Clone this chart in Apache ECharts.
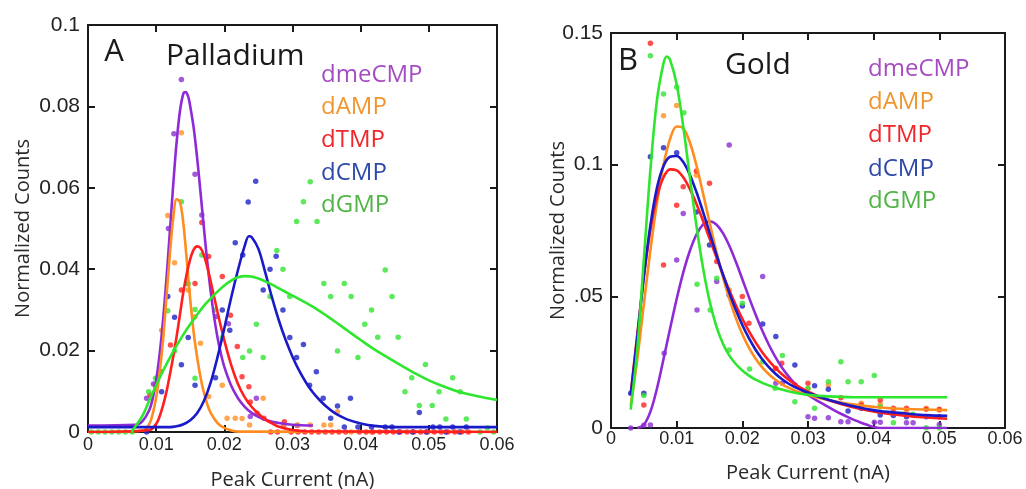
<!DOCTYPE html>
<html>
<head>
<meta charset="utf-8">
<script src="https://cdn.jsdelivr.net/npm/echarts@6/dist/echarts.min.js"></script>
<style>html,body{margin:0;padding:0;background:#fff;}#c{width:1026px;height:489px;}</style>
</head>
<body>
<div id="c"></div>
<script>
// ---------- tick labels & categories ----------
const X_TICKS = ['0', '0.01', '0.02', '0.03', '0.04', '0.05', '0.06'];
const Y_TICKS_A = ['0', '0.02', '0.04', '0.06', '0.08', '0.1'];
const Y_TICKS_B = ['0', '.05', '0.1', '0.15'];
const NUCLEOTIDES = ['dmeCMP', 'dAMP', 'dTMP', 'dCMP', 'dGMP'];
const PANEL_TITLES = ['Palladium', 'Gold'];
const PANEL_LETTERS = ['A', 'B'];

// ---------- Panel A (Palladium): fitted curves [x nA, normalized counts] ----------
const pdFitDmeCMP = [[0,0.0016],[0.007,0.0018],[0.008,0.0027],[0.009,0.0054],[0.0095,0.0083],[0.010,0.0127],[0.0105,0.019],[0.011,0.0273],[0.0115,0.0375],[0.012,0.049],[0.0125,0.0607],[0.013,0.0712],[0.0135,0.079],[0.014,0.0832],[0.0143,0.0835],[0.0147,0.0824],[0.015,0.080],[0.0155,0.0748],[0.016,0.0675],[0.0165,0.059],[0.017,0.0502],[0.0175,0.0418],[0.018,0.0345],[0.0185,0.0283],[0.019,0.0232],[0.0195,0.0192],[0.020,0.016],[0.021,0.0114],[0.022,0.0083],[0.023,0.0062],[0.024,0.0047],[0.025,0.0037],[0.026,0.003],[0.027,0.0025],[0.028,0.0022],[0.030,0.0018],[0.033,0.0016]];
const pdFitDAMP = [[0,0],[0.008,0.0003],[0.009,0.002],[0.0095,0.0045],[0.010,0.0085],[0.0105,0.0145],[0.011,0.0225],[0.0115,0.033],[0.012,0.0435],[0.0125,0.0525],[0.013,0.0572],[0.0135,0.0565],[0.014,0.051],[0.0145,0.042],[0.015,0.0325],[0.0155,0.0245],[0.016,0.0185],[0.0165,0.0135],[0.017,0.0097],[0.0175,0.0068],[0.018,0.0047],[0.019,0.0022],[0.020,0.001],[0.021,0.0004],[0.022,0.0001],[0.06,0]];
const pdFitDTMP = [[0,0],[0.009,0.0005],[0.010,0.002],[0.0105,0.0038],[0.011,0.0065],[0.0115,0.0098],[0.012,0.014],[0.0125,0.0185],[0.013,0.0235],[0.0135,0.029],[0.014,0.0345],[0.0145,0.039],[0.015,0.0425],[0.0155,0.0448],[0.016,0.0456],[0.0165,0.0452],[0.017,0.0435],[0.0175,0.0405],[0.018,0.037],[0.019,0.0295],[0.020,0.0225],[0.021,0.0165],[0.022,0.0118],[0.023,0.0085],[0.024,0.0062],[0.025,0.0045],[0.026,0.0031],[0.027,0.0021],[0.028,0.0013],[0.030,0.0005],[0.032,0.0002],[0.06,0]];
const pdFitDCMP = [[0,0.0012],[0.012,0.0012],[0.013,0.0014],[0.014,0.0019],[0.015,0.0029],[0.016,0.0046],[0.017,0.0076],[0.018,0.0122],[0.019,0.0184],[0.020,0.0255],[0.021,0.033],[0.022,0.0398],[0.023,0.0458],[0.0236,0.0481],[0.024,0.0479],[0.025,0.045],[0.026,0.0392],[0.027,0.033],[0.028,0.0274],[0.029,0.0226],[0.030,0.0185],[0.031,0.015],[0.032,0.0121],[0.033,0.0097],[0.034,0.0078],[0.035,0.0062],[0.036,0.0049],[0.037,0.0039],[0.038,0.0031],[0.040,0.0021],[0.042,0.0015],[0.045,0.0012],[0.06,0.0012]];
const pdFitDGMP = [[0.0064,0],[0.007,0.0015],[0.008,0.004],[0.009,0.0078],[0.010,0.0115],[0.011,0.015],[0.012,0.0182],[0.013,0.0212],[0.014,0.024],[0.015,0.0265],[0.016,0.0288],[0.017,0.031],[0.018,0.0328],[0.019,0.0345],[0.020,0.036],[0.021,0.0372],[0.022,0.038],[0.023,0.0383],[0.024,0.0382],[0.025,0.0377],[0.026,0.037],[0.027,0.0362],[0.028,0.0353],[0.029,0.0344],[0.030,0.0335],[0.032,0.0317],[0.034,0.0297],[0.036,0.0274],[0.038,0.025],[0.040,0.0226],[0.042,0.0203],[0.044,0.0183],[0.046,0.0163],[0.048,0.0144],[0.050,0.0127],[0.052,0.0113],[0.054,0.0101],[0.056,0.0092],[0.058,0.0085],[0.060,0.0079]];

// ---------- Panel A: measured histogram points ----------
const pdPtsDmeCMP = [[0.0086,0.0083],[0.0096,0.0118],[0.0118,0.050],[0.0126,0.0733],[0.0137,0.0866],[0.0157,0.0633],[0.0167,0.0533],[0.0189,0.0284],[0.0206,0.0266],[0.0238,0.0038],[0.0247,0.0083],[0.0287,0.0016],[0.0307,0.0016]];
const pdPtsDAMP = [[0.0108,0.025],[0.0117,0.0532],[0.0127,0.0416],[0.0137,0.0735],[0.0147,0.0349],[0.0157,0.0283],[0.0165,0.0218],[0.0177,0.0087],[0.0197,0.0115],[0.0204,0.0034],[0.0216,0.0034],[0.0226,0.0033],[0.0237,0.0017],[0.0257,0.0083],[0.0287,0.0017],[0.0307,0.0017],[0.0326,0.0017],[0.0346,0.0017],[0.0356,0.0017],[0.0366,0.005],[0.0386,0],[0.0416,0]];
const pdPtsDTMP = [[0.0091,0.0091],[0.0099,0.0115],[0.0107,0.0148],[0.0121,0.0214],[0.0137,0.0349],[0.0145,0.0365],[0.0157,0.0365],[0.0167,0.0515],[0.0177,0.0431],[0.0197,0.0382],[0.0209,0.0287],[0.0219,0.021],[0.0226,0.0136],[0.0236,0.0111],[0.0238,0.0074],[0.0248,0.0046],[0.0258,0.0034],[0.0268,0],[0.0278,0],[0.0288,0.0025],[0.0298,0],[0.0308,0],[0.0318,0],[0.0328,0],[0.0338,0],[0.0348,0],[0.0358,0],[0.0368,0],[0.0378,0],[0.0398,0],[0.0408,0],[0.0418,0],[0.0428,0],[0.0438,0],[0.0448,0],[0.0458,0],[0.0468,0],[0.0478,0],[0.0488,0],[0.0498,0],[0.0508,0],[0.0518,0],[0.0528,0],[0.0538,0],[0.0548,0],[0.0558,0]];
const pdPtsDCMP = [[0.0086,0],[0.0108,0.0099],[0.0117,0.0333],[0.0127,0.0282],[0.0137,0.0165],[0.0147,0.0232],[0.0157,0.0115],[0.0187,0.0133],[0.0197,0.030],[0.0208,0.025],[0.0216,0.0465],[0.0227,0.0435],[0.0235,0.0565],[0.0246,0.0616],[0.0257,0.0349],[0.0267,0.040],[0.0276,0.0432],[0.0286,0.030],[0.0296,0.0232],[0.0306,0.0183],[0.0316,0.0215],[0.0325,0.0115],[0.0335,0.0148],[0.0345,0.0083],[0.0356,0.0034],[0.0366,0.0064],[0.0376,0.0012],[0.0385,0.0083],[0.0396,0.0012],[0.0416,0.0012],[0.0436,0.0012],[0.0446,0.0012],[0.0486,0.0048],[0.0506,0.0012],[0.0516,0.0012],[0.0535,0.0012],[0.0555,0.0012],[0.0456,0],[0.0476,0],[0.0496,0],[0.0525,0],[0.0545,0]];
const pdPtsDGMP = [[0.0005,0],[0.0015,0],[0.0025,0],[0.0035,0],[0.0045,0],[0.0055,0],[0.0065,0],[0.0089,0.0099],[0.0099,0.0132],[0.0117,0.0298],[0.0127,0.0199],[0.0137,0.0566],[0.0147,0.0365],[0.0157,0.0301],[0.0157,0.0132],[0.0167,0.0435],[0.0187,0.030],[0.0197,0.0232],[0.0227,0.0183],[0.0237,0.0199],[0.0247,0.0265],[0.0257,0.0183],[0.0267,0.0333],[0.0277,0.0446],[0.0286,0.040],[0.0296,0.0333],[0.0306,0.0517],[0.0316,0.0566],[0.0326,0.0615],[0.0336,0.0517],[0.0346,0.0365],[0.0356,0.0333],[0.0366,0.0199],[0.0376,0.0365],[0.0386,0.0333],[0.0396,0.0183],[0.0406,0.0265],[0.0416,0.030],[0.0425,0.0233],[0.0436,0.0398],[0.0446,0.0333],[0.0455,0.0233],[0.0465,0.0099],[0.0475,0.0133],[0.0486,0.0065],[0.0495,0.0166],[0.0505,0.0065],[0.0515,0.0099],[0.0525,0.0032],[0.0535,0.0133],[0.0546,0.0099],[0.0555,0.0032],[0.0575,0],[0.0586,0.001],[0.0595,0]];

// ---------- Panel B (Gold): fitted curves ----------
const auFitDmeCMP = [[0.004,0],[0.005,0.0012],[0.006,0.0062],[0.007,0.015],[0.008,0.0262],[0.009,0.0378],[0.010,0.049],[0.011,0.059],[0.012,0.0672],[0.013,0.0734],[0.014,0.0772],[0.015,0.0785],[0.016,0.0774],[0.017,0.0742],[0.018,0.0693],[0.019,0.0632],[0.020,0.0565],[0.021,0.0497],[0.022,0.0432],[0.023,0.0372],[0.024,0.0318],[0.025,0.0271],[0.026,0.0231],[0.027,0.0197],[0.028,0.0168],[0.029,0.0144],[0.030,0.0126],[0.031,0.011],[0.032,0.0095],[0.033,0.0081],[0.034,0.0067],[0.035,0.0054],[0.036,0.0042],[0.037,0.0031],[0.038,0.0021],[0.039,0.0012],[0.040,0.0004],[0.041,0],[0.0512,0]];
const auFitDAMP = [[0.003,0.0086],[0.004,0.026],[0.005,0.047],[0.006,0.0675],[0.007,0.0855],[0.008,0.100],[0.009,0.1098],[0.010,0.1145],[0.011,0.1138],[0.012,0.1085],[0.013,0.0998],[0.014,0.0893],[0.015,0.0782],[0.016,0.0675],[0.017,0.0578],[0.018,0.0492],[0.019,0.0418],[0.020,0.0356],[0.021,0.0305],[0.022,0.0264],[0.023,0.0231],[0.024,0.0205],[0.025,0.0184],[0.026,0.0167],[0.027,0.0153],[0.028,0.0142],[0.030,0.0125],[0.032,0.0112],[0.035,0.0097],[0.038,0.0086],[0.041,0.0078],[0.045,0.0072],[0.0512,0.0068]];
const auFitDTMP = [[0.003,0.013],[0.004,0.0355],[0.005,0.0575],[0.006,0.0752],[0.007,0.0877],[0.008,0.0952],[0.009,0.0982],[0.010,0.0978],[0.011,0.0952],[0.012,0.0908],[0.013,0.0852],[0.014,0.0788],[0.015,0.072],[0.016,0.0652],[0.017,0.0586],[0.018,0.0524],[0.019,0.0467],[0.020,0.0415],[0.021,0.0368],[0.022,0.0326],[0.023,0.0289],[0.024,0.0257],[0.025,0.0229],[0.026,0.0205],[0.027,0.0184],[0.028,0.0166],[0.029,0.0151],[0.030,0.0138],[0.032,0.0116],[0.035,0.0091],[0.038,0.0072],[0.041,0.0058],[0.045,0.0046],[0.048,0.004],[0.0512,0.0035]];
const auFitDCMP = [[0.003,0.0125],[0.004,0.0345],[0.005,0.0575],[0.006,0.077],[0.007,0.0912],[0.008,0.0995],[0.009,0.103],[0.010,0.1033],[0.011,0.101],[0.012,0.0962],[0.013,0.0897],[0.014,0.0822],[0.015,0.0743],[0.016,0.0663],[0.017,0.0586],[0.018,0.0514],[0.019,0.0449],[0.020,0.0391],[0.021,0.0341],[0.022,0.0298],[0.023,0.0262],[0.024,0.0232],[0.025,0.0207],[0.026,0.0186],[0.027,0.0169],[0.028,0.0155],[0.030,0.0134],[0.032,0.0116],[0.035,0.0094],[0.038,0.0077],[0.041,0.0064],[0.045,0.0055],[0.048,0.0049],[0.0512,0.0046]];
const auFitDGMP = [[0.003,0.007],[0.004,0.03],[0.005,0.064],[0.006,0.098],[0.007,0.1245],[0.008,0.1385],[0.0085,0.1411],[0.009,0.1398],[0.010,0.1305],[0.011,0.1145],[0.012,0.0955],[0.013,0.077],[0.014,0.061],[0.015,0.0483],[0.016,0.039],[0.017,0.0323],[0.018,0.0276],[0.019,0.0243],[0.020,0.0218],[0.021,0.0199],[0.022,0.0184],[0.024,0.0162],[0.026,0.0146],[0.028,0.0134],[0.030,0.0126],[0.033,0.012],[0.037,0.0117],[0.0512,0.0117]];

// ---------- Panel B: measured histogram points ----------
const auPtsDmeCMP = [[0.003,0],[0.005,0.001],[0.006,0.0011],[0.0081,0.0284],[0.010,0.0638],[0.011,0.0815],[0.0131,0.0448],[0.0161,0.0556],[0.018,0.1075],[0.0231,0.0575],[0.0251,0.017],[0.0261,0.017],[0.030,0.0043],[0.031,0.0037],[0.0331,0.0039],[0.035,0.0024],[0.0361,0.0024],[0.0401,0.0022],[0.041,0.0022],[0.045,0.002],[0.046,0.002],[0.050,0.0013]];
const auPtsDAMP = [[0.008,0.1186],[0.010,0.1225],[0.013,0.096],[0.018,0.0524],[0.025,0.0225],[0.028,0.0163],[0.030,0.015],[0.0331,0.0163],[0.0381,0.0094],[0.041,0.009],[0.043,0.0062],[0.045,0.0062],[0.048,0.0075],[0.050,0.0068]];
const auPtsDTMP = [[0.005,0.0087],[0.006,0.1461],[0.008,0.0619],[0.010,0.0846],[0.011,0.0916],[0.013,0.0976],[0.015,0.0929],[0.0161,0.0632],[0.020,0.0499],[0.021,0.0398],[0.0251,0.0227],[0.026,0.0246],[0.028,0.0163],[0.030,0.017],[0.035,0.0115],[0.0381,0.0087],[0.041,0.0106],[0.043,0.0075],[0.045,0.0075],[0.048,0.0071],[0.050,0.0071]];
const auPtsDCMP = [[0.003,0.0132],[0.005,0.0132],[0.006,0.103],[0.008,0.1064],[0.010,0.1045],[0.013,0.082],[0.015,0.0695],[0.018,0.0505],[0.020,0.0463],[0.0231,0.0395],[0.0251,0.0347],[0.028,0.0239],[0.031,0.016],[0.0331,0.0147],[0.0361,0.0065],[0.0381,0.0075],[0.041,0.0049],[0.043,0.0047],[0.045,0.0043],[0.048,0.0043],[0.050,0.0043]];
const auPtsDGMP = [[0.005,0.0123],[0.006,0.1414],[0.008,0.1268],[0.010,0.1295],[0.0111,0.1197],[0.0131,0.0546],[0.0151,0.0448],[0.0161,0.0569],[0.018,0.0296],[0.020,0.0474],[0.0211,0.0224],[0.0231,0.0252],[0.025,0.0151],[0.0261,0.0275],[0.028,0.010],[0.030,0.0151],[0.031,0.0075],[0.0331,0.0176],[0.035,0.0252],[0.0361,0.0176],[0.0381,0.0176],[0.0401,0.0199],[0.041,0.0081],[0.043,0.002],[0.046,0.0052],[0.048,0.0001],[0.050,0]];

// ---------- styling ----------
const LINE_COLORS = ['#8e2bd6', '#ff8c1f', '#ff1f1f', '#1a1ac8', '#2ee62e'];
const DOT_COLORS = ['#8a2fd0', '#ff9022', '#ff2222', '#1d22c4', '#33e433'];
const TEXT_COLORS = ['#a64cc2', '#f0962f', '#f0262a', '#2e4aa8', '#52b447'];
const TXT = '"Open Sans","Noto Sans",sans-serif';
const NUM = '"Liberation Sans",Arial,sans-serif';

const pdFits = [pdFitDmeCMP, pdFitDAMP, pdFitDTMP, pdFitDCMP, pdFitDGMP];
const pdPts = [pdPtsDmeCMP, pdPtsDAMP, pdPtsDTMP, pdPtsDCMP, pdPtsDGMP];
const auFits = [auFitDmeCMP, auFitDAMP, auFitDTMP, auFitDCMP, auFitDGMP];
const auPts = [auPtsDmeCMP, auPtsDAMP, auPtsDTMP, auPtsDCMP, auPtsDGMP];

const chart = echarts.init(document.getElementById('c'), null, {renderer: 'canvas'});

const lineSty = {color: '#1a1a1a', width: 2};
function xAxes(grid, nameGap, labelMargin) {
  const base = {
    type: 'value', gridIndex: grid, min: 0, max: 0.06, interval: 0.01,
    splitLine: {show: false},
    axisLine: {show: true, onZero: false, lineStyle: lineSty},
    axisTick: {show: true, inside: true, length: 7, lineStyle: {color: '#1a1a1a', width: 2}}
  };
  return [
    Object.assign({}, base, {
      position: 'bottom',
      name: 'Peak Current (nA)', nameLocation: 'middle', nameGap: nameGap, nameMoveOverlap: false,
      nameTextStyle: {fontFamily: TXT, fontSize: 20, color: '#2a2a2a'},
      axisLabel: {show: true, margin: labelMargin, fontFamily: NUM, fontSize: 18, color: '#222',
        formatter: v => X_TICKS[Math.round(v / 0.01)]}
    }),
    Object.assign({}, base, {position: 'top', axisLabel: {show: false}})
  ];
}
function yAxes(grid, max, interval, labels, gap) {
  const base = {
    type: 'value', gridIndex: grid, min: 0, max: max, interval: interval,
    splitLine: {show: false},
    axisLine: {show: true, onZero: false, lineStyle: lineSty},
    axisTick: {show: true, inside: true, length: 7, lineStyle: {color: '#1a1a1a', width: 2}}
  };
  return [
    Object.assign({}, base, {
      position: 'left',
      name: 'Normalized Counts', nameLocation: 'middle', nameGap: gap, nameMoveOverlap: false,
      nameTextStyle: {fontFamily: TXT, fontSize: 20, color: '#2a2a2a'},
      axisLabel: {show: true, margin: 8, fontFamily: NUM, fontSize: 21, color: '#222',
        formatter: v => labels[Math.round(v / interval)]}
    }),
    Object.assign({}, base, {position: 'right', axisLabel: {show: false}})
  ];
}

const series = [];
function addPanel(fits, pts, xi, yi) {
  NUCLEOTIDES.forEach((n, i) => {
    series.push({
      name: n + ' fit', type: 'line', xAxisIndex: xi, yAxisIndex: yi,
      data: fits[i], showSymbol: false, smooth: 0.35,
      lineStyle: {color: LINE_COLORS[i], width: 2.6}, z: 3, silent: true
    });
    series.push({
      name: n, type: 'scatter', xAxisIndex: xi, yAxisIndex: yi,
      data: pts[i], symbol: 'circle', symbolSize: 5.5,
      itemStyle: {color: DOT_COLORS[i]}, z: 2, silent: true
    });
  });
}
addPanel(pdFits, pdPts, 0, 0);
addPanel(auFits, auPts, 2, 2);

function txt(x, y, s, size, color, align) {
  return {type: 'text', x: x, y: y, silent: true, z: 10,
    style: {text: s, fontFamily: TXT, fontSize: size, fill: color,
      textAlign: align || 'left', textVerticalAlign: 'middle'}};
}
const graphics = [
  txt(114, 52, PANEL_LETTERS[0], 31, '#1a1a1a', 'center'),
  txt(166, 56, PANEL_TITLES[0], 30, '#1a1a1a'),
  txt(628, 61, PANEL_LETTERS[1], 31, '#1a1a1a', 'center'),
  txt(725, 65, PANEL_TITLES[1], 30, '#1a1a1a')
];
const legYA = [75, 107, 140, 173, 205];
const legYB = [69, 102, 135, 169, 201];
NUCLEOTIDES.forEach((n, i) => {
  graphics.push(txt(321, legYA[i], n, 24, TEXT_COLORS[i]));
  graphics.push(txt(868, legYB[i], n, 24, TEXT_COLORS[i]));
});

chart.setOption({
  animation: false,
  backgroundColor: '#ffffff',
  grid: [
    {left: 88, top: 25, width: 409, height: 407, containLabel: false, outerBoundsMode: 'none'},
    {left: 611, top: 33, width: 394, height: 395, containLabel: false, outerBoundsMode: 'none'}
  ],
  xAxis: [].concat(xAxes(0, 38, 4), xAxes(1, 35, 2)),
  yAxis: [].concat(yAxes(0, 0.1, 0.02, Y_TICKS_A, 55), yAxes(1, 0.15, 0.05, Y_TICKS_B, 43)),
  series: series,
  graphic: graphics
});
</script>
</body>
</html>
